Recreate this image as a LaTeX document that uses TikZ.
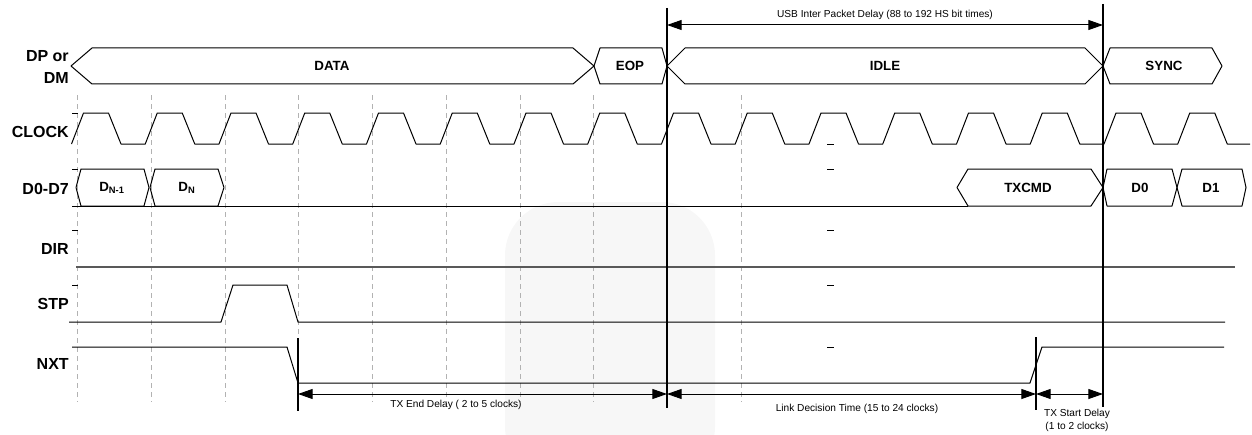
\documentclass[tikz,border=0pt]{standalone}
\usepackage{fontspec}
\setmainfont{Liberation Sans}
\usetikzlibrary{arrows.meta}
\tikzset{
  sig/.style={font=\bfseries\fontsize{12}{16}\selectfont, anchor=east, inner sep=0pt, align=right},
  buslbl/.style={font=\bfseries\fontsize{10}{12}\selectfont, inner sep=0pt},
  note/.style={font=\fontsize{7.6}{9.75}\selectfont, inner sep=0pt, align=center},
  wave/.style={line width=0.75pt, line join=round},
  dirline/.style={draw=black!65, line width=1.1pt},
  clkline/.style={draw=black!30, line width=0.75pt, dash pattern=on 3.75pt off 3pt},
  marker/.style={line width=1.5pt},
  dimarrow/.style={{Triangle[length=11pt,width=7.5pt]}-{Triangle[length=11pt,width=7.5pt]}, line width=0.75pt},
  wmark/.style={fill=black!3, rounded corners=40pt}
}
\begin{document}
\begin{tikzpicture}[x=0.75pt,y=-0.75pt]
\useasboundingbox (0,0) rectangle (1252,435);

\begin{scope}
\clip (0,0) rectangle (1252,435);
\fill[wmark] (505,480) rectangle (715,202);
\end{scope}

\foreach \k in {0,...,9}
  \draw[clkline] ({77.5+73.75*\k},95) -- ({77.5+73.75*\k},402);

\node[sig] (dp) at (69,67) {DP or\\DM};
\node[sig] (clk) at (69,132) {CLOCK};
\node[sig] (dat) at (69,189) {D0-D7};
\node[sig] (dir) at (69,249) {DIR};
\node[sig] (stp) at (69,304) {STP};
\node[sig] (nxt) at (69,364) {NXT};

\draw[wave] (71,66) -- (92,48) -- (573,48) -- (594,66) -- (573,84) -- (92,84) -- cycle;
\draw[wave] (594,66) -- (600,48) -- (662,48) -- (667,66) -- (662,84) -- (600,84) -- cycle;
\draw[wave] (667,66) -- (685,48) -- (1085,48) -- (1103,66) -- (1085,84) -- (685,84) -- cycle;
\draw[wave] (1103,66) -- (1110,48) -- (1212,48) -- (1222,66) -- (1212,84) -- (1110,84) -- cycle;
\node[buslbl] (data) at (332,66) {DATA};
\node[buslbl] (eop) at (630,66) {EOP};
\node[buslbl] (idle) at (885,66) {IDLE};
\node[buslbl] (sync) at (1164,66) {SYNC};

\draw[wave] (71.5,144) \foreach \k in {0,...,15}{
  -- ({71.5+73.75*\k},144) -- ({83.5+73.75*\k},113) -- ({108.5+73.75*\k},113) -- ({121+73.75*\k},144)} -- (1250,144);

\draw[wave] (72,206) -- (968,206);
\draw[wave] (76,187.5) -- (81,169) -- (144,169) -- (149,187.5) -- (144,206) -- (81,206) -- cycle;
\draw[wave] (150,187.5) -- (155,169) -- (218,169) -- (224,187.5) -- (218,206) -- (155,206) -- cycle;
\draw[wave] (957,187.5) -- (968,169) -- (1091,169) -- (1103,187.5) -- (1091,206) -- (968,206) -- cycle;
\draw[wave] (1103,187.5) -- (1107,169) -- (1172,169) -- (1177,187.5) -- (1172,206) -- (1107,206) -- cycle;
\draw[wave] (1177,187.5) -- (1182,169) -- (1242,169) -- (1246,187.5) -- (1242,206) -- (1182,206) -- cycle;
\node[buslbl] (dn1) at (112,188) {D\textsubscript{N-1}};
\node[buslbl] (dn) at (187,188) {D\textsubscript{N}};
\node[buslbl] (txcmd) at (1028,187.5) {TXCMD};
\node[buslbl] (d0) at (1140,187.5) {D0};
\node[buslbl] (d1) at (1211,187.5) {D1};

\draw[dirline] (76,267) -- (1235,267);
\draw[wave] (69,322) -- (221,322) -- (233,285) -- (287,285) -- (298,322) -- (1225,322);
\draw[wave] (72,347) -- (287,347) -- (298,383) -- (1030,383) -- (1042,347) -- (1224,347);

\foreach \y in {113,169,230,285}
  \draw[wave] (72,\y) -- (78,\y);
\foreach \y in {144,169,230,285,347}
  \draw[wave] (827,\y) -- (834,\y);

\draw[marker] (667,8) -- (667,408);
\draw[marker] (1103,4) -- (1103,407);
\draw[marker] (298,338) -- (298,411);
\draw[marker] (1036,337) -- (1036,410);

\coordinate (ipdL) at (667,25);
\coordinate (ipdR) at (1103,25);
\coordinate (txe) at (298,394);
\coordinate (ld) at (667,394);
\coordinate (txs) at (1036,394);
\coordinate (sy) at (1103,394);
\draw[dimarrow] (ipdL) -- (ipdR);
\draw[dimarrow] (txe) -- (ld);
\draw[dimarrow] (ld) -- (txs);
\draw[dimarrow] (txs) -- (sy);

\node[note, anchor=base] (ipd) at (885,18) {USB Inter Packet Delay (88 to 192 HS bit times)};
\node[note, anchor=base] (txend) at (456,407) {TX End Delay ( 2 to 5 clocks)};
\node[note, anchor=base] (link) at (857,411) {Link Decision Time (15 to 24 clocks)};
\node[note, anchor=base] (txstart) at (1077,429) {TX Start Delay\\(1 to 2 clocks)};
\end{tikzpicture}
\end{document}
